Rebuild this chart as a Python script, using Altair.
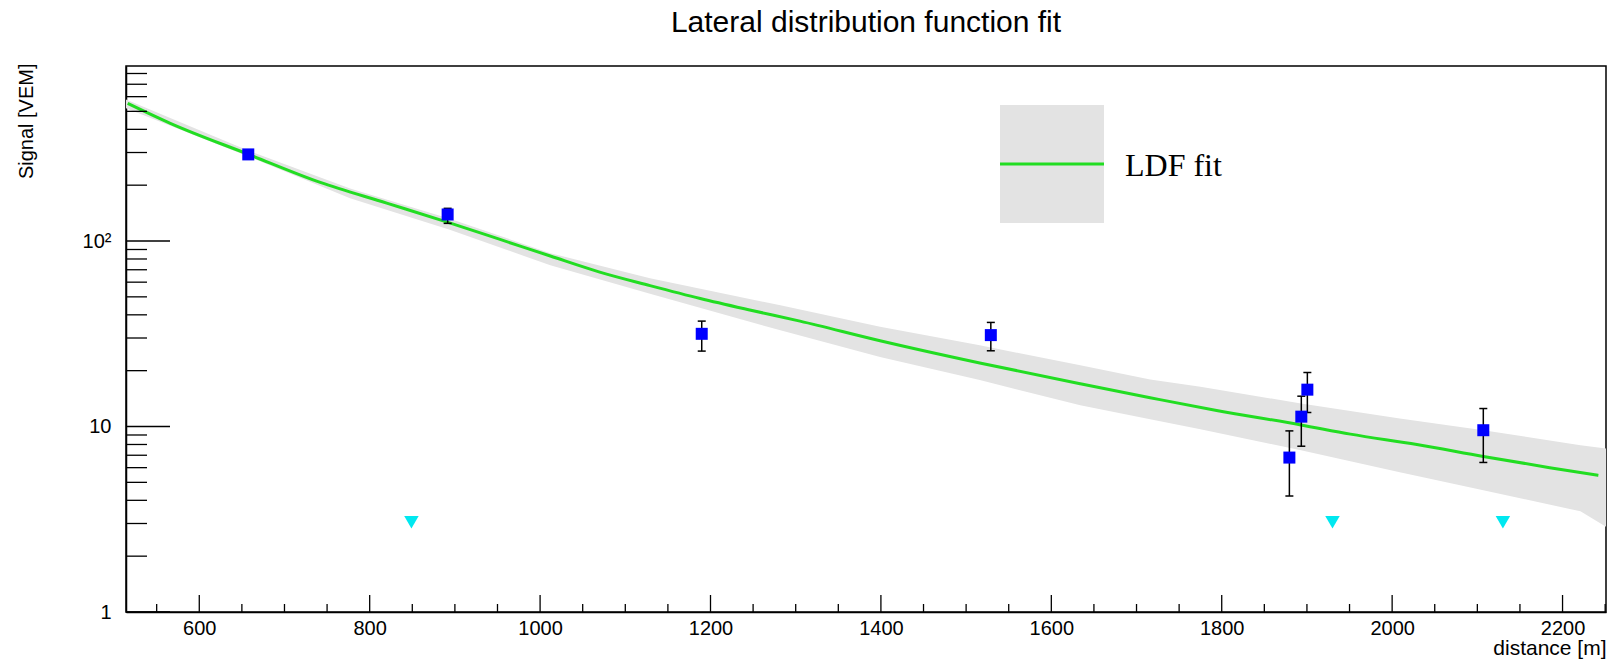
import altair as alt
import pandas as pd

# ---------------- data ----------------
X_DOMAIN = [514, 2251]
Y_DOMAIN = [1, 878]

# LDF fit curve
fit_x = [516, 566, 658, 742, 820, 892, 953, 1012, 1070, 1129, 1188, 1246,
         1305, 1399, 1516, 1634, 1716, 1794, 1893, 1951, 2029, 2107, 2185, 2242]
fit_y = [552, 431, 293, 207, 160, 126, 102, 83, 68, 57.5, 49, 42.5,
         37, 29, 22, 17, 14.3, 12.2, 10.2, 9.1, 8.0, 6.9, 6.0, 5.45]

# uncertainty band of the fit
band_x = [514, 660, 777, 894, 1012, 1129, 1282, 1399, 1516, 1634, 1716,
          1775, 1893, 2009, 2107, 2221, 2251]
band_lo = [520, 283, 170, 115, 74, 52, 33, 23.7, 17.8, 13.0, 10.95,
           9.67, 7.45, 5.67, 4.53, 3.49, 2.88]
band_hi = [580, 304, 192, 132, 86, 63, 45, 34.5, 27.4, 21.4, 17.9,
           16.4, 13.3, 11.05, 9.55, 7.93, 7.6]

# station signals with errors
sig_x = [657.5, 891.5, 1189.7, 1529, 1879.4, 1893.4, 1900.5, 2107]
sig_y = [293, 139, 31.6, 31.1, 6.8, 11.3, 15.8, 9.55]
sig_lo = [281, 124.5, 25.5, 25.6, 4.22, 7.83, 11.9, 6.4]
sig_hi = [305, 150, 37.0, 36.4, 9.47, 14.57, 19.55, 12.5]

# silent stations (upper limits)
sil_x = [849, 1930, 2130]
sil_y = [3.05, 3.05, 3.05]

# axis ticks
x_major = [600, 800, 1000, 1200, 1400, 1600, 1800, 2000, 2200]
x_minor = [550, 650, 700, 750, 850, 900, 950, 1050, 1100, 1150, 1250, 1300,
           1350, 1450, 1500, 1550, 1650, 1700, 1750, 1850, 1900, 1950, 2050,
           2100, 2150, 2250]
y_major = [1, 10, 100]
y_minor = [2, 3, 4, 5, 6, 7, 8, 9, 20, 30, 40, 50, 60, 70, 80, 90,
           200, 300, 400, 500, 600, 700, 800]

TITLE = "Lateral distribution function fit"
X_TITLE = "distance [m]"
Y_TITLE = "Signal [VEM]"
LEGEND_LABEL = "LDF fit"

# ---------------- styling ----------------
W, H = 1480, 546
SANS = "Liberation Sans"
GREEN = "#22dd22"
BAND = "#e3e3e3"

fit_df = pd.DataFrame({"d": fit_x, "s": fit_y})
band_df = pd.DataFrame({"d": band_x, "lo": band_lo, "hi": band_hi})
sig_df = pd.DataFrame({"d": sig_x, "s": sig_y, "lo": sig_lo, "hi": sig_hi})
sil_df = pd.DataFrame({"d": sil_x, "s": sil_y})
one = pd.DataFrame({"a": [0]})

xs = alt.Scale(domain=X_DOMAIN, nice=False, zero=False)
ys = alt.Scale(type="log", domain=Y_DOMAIN, nice=False)

x_axis = alt.Axis(values=x_major, ticks=False, tickSize=0, grid=False, format="d",
                  domainColor="black", domainWidth=1.5, labelFlush=False,
                  labelFont=SANS, labelFontSize=20, labelColor="black",
                  labelPadding=6, title=X_TITLE, titleFont=SANS,
                  titleFontSize=21, titleFontWeight="normal", titleColor="black",
                  titleX=W, titleY=42, titleAlign="right",
                  titleBaseline="alphabetic")
y_axis = alt.Axis(values=y_major, ticks=False, tickSize=0, grid=False,
                  domainColor="black", domainWidth=1.5, labelFlush=False,
                  labelExpr="datum.value == 100 ? '10\u00b2' : datum.value == 10 ? '10' : '1'",
                  labelFont=SANS, labelFontSize=20, labelColor="black",
                  labelPadding=15, title=Y_TITLE, titleFont=SANS,
                  titleFontSize=20, titleFontWeight="normal", titleColor="black",
                  titleAngle=270, titleX=-94, titleY=-3, titleAlign="right",
                  titleBaseline="alphabetic")

band = alt.Chart(band_df).mark_area(color=BAND, clip=True).encode(
    x=alt.X("d:Q", scale=xs, axis=x_axis),
    y=alt.Y("hi:Q", scale=ys, axis=y_axis),
    y2="lo:Q",
)

line = alt.Chart(fit_df).mark_line(color=GREEN, strokeWidth=3, clip=True,
                                   interpolate="monotone").encode(
    x=alt.X("d:Q", scale=xs), y=alt.Y("s:Q", scale=ys))

err = alt.Chart(sig_df).mark_rule(color="black", strokeWidth=1.5).encode(
    x=alt.X("d:Q", scale=xs), y=alt.Y("lo:Q", scale=ys), y2="hi:Q")
cap_lo = alt.Chart(sig_df).mark_tick(orient="horizontal", size=8, thickness=1.5,
                                     color="black", opacity=1).encode(
    x=alt.X("d:Q", scale=xs), y=alt.Y("lo:Q", scale=ys))
cap_hi = alt.Chart(sig_df).mark_tick(orient="horizontal", size=8, thickness=1.5,
                                     color="black", opacity=1).encode(
    x=alt.X("d:Q", scale=xs), y=alt.Y("hi:Q", scale=ys))

squares = alt.Chart(sig_df).mark_point(shape="square", filled=True, size=144,
                                       color="#0000ff", opacity=1).encode(
    x=alt.X("d:Q", scale=xs), y=alt.Y("s:Q", scale=ys))

tri = alt.Chart(sil_df).mark_point(shape="triangle-down", filled=True, size=210,
                                   color="#00e8f0", opacity=1).encode(
    x=alt.X("d:Q", scale=xs), y=alt.Y("s:Q", scale=ys))

# ROOT style inward ticks
xt_major = alt.Chart(pd.DataFrame({"v": x_major})).mark_rule(color="black", strokeWidth=1.3).encode(
    x=alt.X("v:Q", scale=xs), y=alt.value(H), y2=alt.value(H - 17))
xt_minor = alt.Chart(pd.DataFrame({"v": x_minor})).mark_rule(color="black", strokeWidth=1.3).encode(
    x=alt.X("v:Q", scale=xs), y=alt.value(H), y2=alt.value(H - 8))
yt_major = alt.Chart(pd.DataFrame({"v": y_major})).mark_rule(color="black", strokeWidth=1.3).encode(
    y=alt.Y("v:Q", scale=ys), x=alt.value(0), x2=alt.value(44))
yt_minor = alt.Chart(pd.DataFrame({"v": y_minor})).mark_rule(color="black", strokeWidth=1.3).encode(
    y=alt.Y("v:Q", scale=ys), x=alt.value(0), x2=alt.value(21))

# legend box
leg_box = alt.Chart(one).mark_rect(color=BAND, opacity=1).encode(
    x=alt.value(874), x2=alt.value(978), y=alt.value(39), y2=alt.value(157))
leg_line = alt.Chart(one).mark_rule(color=GREEN, strokeWidth=3).encode(
    x=alt.value(874), x2=alt.value(978), y=alt.value(98))
leg_text = alt.Chart(one).mark_text(text=LEGEND_LABEL, font="Liberation Serif",
                                    fontSize=32, align="left", baseline="alphabetic",
                                    color="black").encode(
    x=alt.value(999), y=alt.value(110))

# chart title
title_txt = alt.Chart(one).mark_text(text=TITLE, font=SANS, fontSize=30,
                                     align="center", baseline="alphabetic",
                                     color="black").encode(
    x=alt.value(W / 2), y=alt.value(-34))

chart = alt.layer(
    band, line, err, cap_lo, cap_hi, squares, tri,
    xt_major, xt_minor, yt_major, yt_minor,
    leg_box, leg_line, leg_text, title_txt,
).properties(
    width=W, height=H,
    padding={"left": 126, "top": 66, "right": 6, "bottom": 47},
    autosize=alt.AutoSizeParams(type="none"),
    background="white",
).configure_view(stroke="black", strokeWidth=1.5)

chart.save("out.html", embed_options={"renderer": "svg", "actions": False})
